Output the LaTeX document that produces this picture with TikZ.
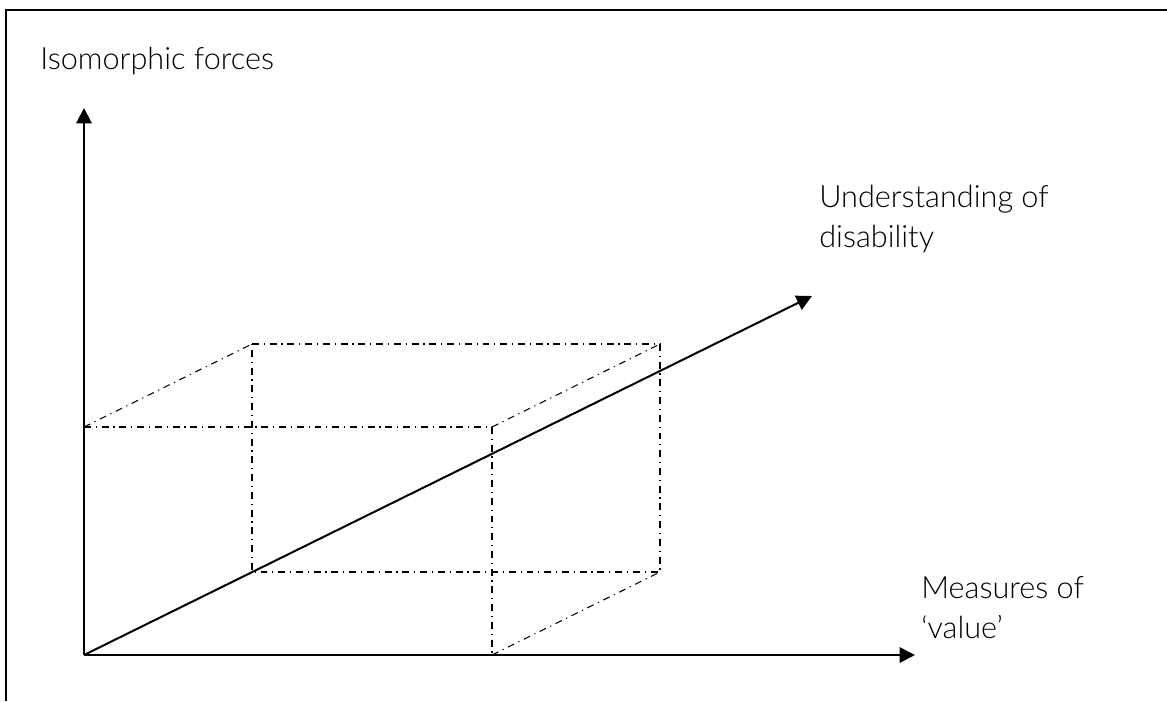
\documentclass[tikz,border=0pt]{standalone}
\usepackage{fontspec}
\setmainfont{Lato}[UprightFont=* Light]
\usetikzlibrary{arrows.meta}
\begin{document}
\begin{tikzpicture}[x=0.75pt,y=-0.75pt,
  axis/.style={line width=1.5pt,-{Triangle[length=11.5pt,width=11.5pt]}},
  dashdot/.style={line width=0.8pt,dash pattern=on 5.2pt off 3.6pt on 0.9pt off 3.6pt},
  frame/.style={line width=1.5pt},
  lbl/.style={inner sep=0pt,font=\fontsize{23}{30}\selectfont,align=left}]
\useasboundingbox (0,0) rectangle (1167,701);
% frame
\coordinate (F1) at (6,701);
\coordinate (F2) at (6,10);
\coordinate (F3) at (1167,10);
\draw[frame] (F1) -- (F2) -- (F3);
% axes points
\coordinate (O) at (84,655);
\coordinate (Ytip) at (84,108);
\coordinate (Xtip) at (915,655);
\coordinate (Dtip) at (812,296);
% box corners
\coordinate (A) at (84,427);
\coordinate (B) at (492,427);
\coordinate (C) at (492,655);
\coordinate (A2) at (252,344);
\coordinate (B2) at (660,344);
\coordinate (C2) at (660,572);
\coordinate (D2) at (252,572);
\draw[dashdot] (A) -- (B) -- (C);
\draw[dashdot] (A2) -- (B2) -- (C2) -- (D2) -- cycle;
\draw[dashdot] (A) -- (A2);
\draw[dashdot] (B) -- (B2);
\draw[dashdot] (C) -- (C2);
% axes
\draw[axis] (O) -- (Ytip);
\draw[axis] (O) -- (Xtip);
\draw[axis] (O) -- (Dtip);
% labels
\node[lbl,anchor=base west] (ylab) at (40,69) {Isomorphic forces};
\node[lbl,anchor=base west] (dlab) at (819,247) {Understanding of\\disability};
\node[lbl,anchor=base west] (xlab) at (921,638) {Measures of\\‘value’};
\end{tikzpicture}
\end{document}
